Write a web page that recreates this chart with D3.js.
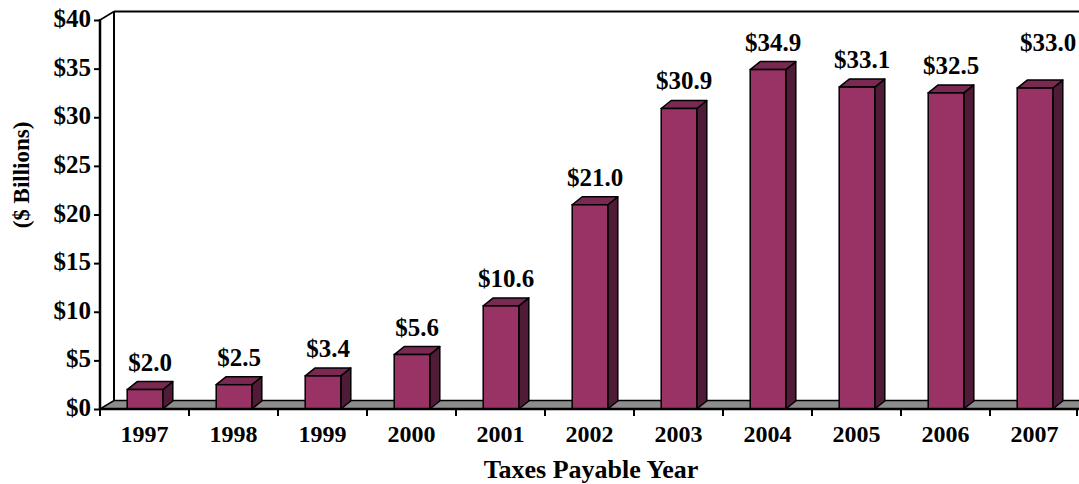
<!DOCTYPE html>
<html>
<head>
<meta charset="utf-8">
<script src="https://cdn.jsdelivr.net/npm/d3@7/dist/d3.min.js"></script>
<style>
  html, body { margin: 0; padding: 0; background: #fff; }
  svg text { font-family: "Liberation Serif", "Times New Roman", serif; font-weight: bold; fill: #000; }
</style>
</head>
<body>
<svg id="chart" width="1079" height="484"></svg>
<script>
const years = ["1997","1998","1999","2000","2001","2002","2003","2004","2005","2006","2007"];
const values = [2.0, 2.5, 3.4, 5.6, 10.6, 21.0, 30.9, 34.9, 33.1, 32.5, 33.0];
const valueLabels = ["$2.0","$2.5","$3.4","$5.6","$10.6","$21.0","$30.9","$34.9","$33.1","$32.5","$33.0"];
const yTicks = [0, 5, 10, 15, 20, 25, 30, 35, 40];

(function () {
const svg = d3.select("#chart");
const L = 100, R = 1079, T = 20, B = 409;
const wdx = 14, wdy = -8.5;   // wall depth
const bdx = 10, bdy = -8;     // bar depth

const x = d3.scaleBand().domain(years).range([L, R]).padding(0);
const y = d3.scaleLinear().domain([0, 40]).range([B, T]);

const colFront = "#993366", colTop = "#7a2952", colSide = "#4f1b36", colFloor = "#8c8c8c";
const pts = a => a.map(p => p.join(",")).join(" ");

// back wall lines
svg.append("line").attr("x1", L + wdx).attr("x2", L + wdx)
  .attr("y1", T + wdy).attr("y2", B + wdy).attr("stroke", "#000").attr("stroke-width", 2);
svg.append("line").attr("x1", L + wdx).attr("x2", R)
  .attr("y1", T + wdy).attr("y2", T + wdy).attr("stroke", "#000").attr("stroke-width", 2);
svg.append("line").attr("x1", L).attr("x2", L + wdx)
  .attr("y1", T).attr("y2", T + wdy).attr("stroke", "#000").attr("stroke-width", 1.5);

// floor
svg.append("polygon")
  .attr("points", pts([[L, B], [L + wdx, B + wdy], [R + 2, B + wdy], [R + 2, B]]))
  .attr("fill", colFloor).attr("stroke", "#000").attr("stroke-width", 1.5);

// bars
const g = svg.append("g");
years.forEach((yr, i) => {
  const bw = x.bandwidth() * 0.4;
  const cx = x(yr) + x.bandwidth() / 2 + 0.5;
  const xl = cx - bw / 2, xr = cx + bw / 2;
  const yt = y(values[i]), yb = y(0);
  g.append("polygon").attr("points", pts([[xr, yt], [xr + bdx, yt + bdy], [xr + bdx, yb + bdy], [xr, yb]]))
    .attr("fill", colSide).attr("stroke", "#000").attr("stroke-width", 1.5).attr("stroke-linejoin", "round");
  g.append("polygon").attr("points", pts([[xl, yt], [xl + bdx, yt + bdy], [xr + bdx, yt + bdy], [xr, yt]]))
    .attr("fill", colTop).attr("stroke", "#000").attr("stroke-width", 1.5).attr("stroke-linejoin", "round");
  g.append("rect").attr("x", xl).attr("y", yt).attr("width", bw).attr("height", yb - yt)
    .attr("fill", colFront).attr("stroke", "#000").attr("stroke-width", 1.5);

  // value label (last one is pushed up/right as in the original)
  const last = i === years.length - 1;
  svg.append("text")
    .attr("x", cx + bdx / 2 + (last ? 8 : 0))
    .attr("y", yt - 19 - (last ? 18.5 : 0))
    .attr("text-anchor", "middle")
    .attr("font-size", 25)
    .text(valueLabels[i]);
});

// y axis
const yAxis = d3.axisLeft(y).tickValues(yTicks).tickSize(6).tickPadding(3).tickFormat(d => "$" + d);
const ya = svg.append("g").attr("transform", `translate(${L},0)`).call(yAxis);
ya.select(".domain").remove();
ya.selectAll(".tick line").attr("stroke", "#000").attr("stroke-width", 2);
ya.selectAll(".tick text").attr("font-size", 25).attr("dy", "0.26em").attr("fill", "#000")
  .style("font-family", "'Liberation Serif', 'Times New Roman', serif").style("font-weight", "bold");
svg.append("line").attr("x1", L).attr("x2", L).attr("y1", T - 1).attr("y2", B + 1)
  .attr("stroke", "#000").attr("stroke-width", 2.5);

// x axis
const xAxis = d3.axisBottom(x).tickSize(0).tickPadding(16);
const xa = svg.append("g").attr("transform", `translate(0,${B})`).call(xAxis);
xa.select(".domain").remove();
xa.selectAll(".tick text").attr("font-size", 24).attr("dy", "0.71em").attr("fill", "#000")
  .style("font-family", "'Liberation Serif', 'Times New Roman', serif").style("font-weight", "bold");
svg.append("line").attr("x1", L - 1).attr("x2", R).attr("y1", B).attr("y2", B)
  .attr("stroke", "#000").attr("stroke-width", 2.5);
// category boundary ticks
const bounds = years.map(d => x(d)).concat([R - 2]);
svg.selectAll(".xb").data(bounds).enter().append("line")
  .attr("x1", d => d).attr("x2", d => d).attr("y1", B).attr("y2", B + 7)
  .attr("stroke", "#000").attr("stroke-width", 2);

// titles
svg.append("text").attr("transform", "translate(29,175) rotate(-90)")
  .attr("text-anchor", "middle").attr("font-size", 23).text("($ Billions)");
svg.append("text").attr("x", 591).attr("y", 478)
  .attr("text-anchor", "middle").attr("font-size", 26).text("Taxes Payable Year");
})();
</script>
</body>
</html>
